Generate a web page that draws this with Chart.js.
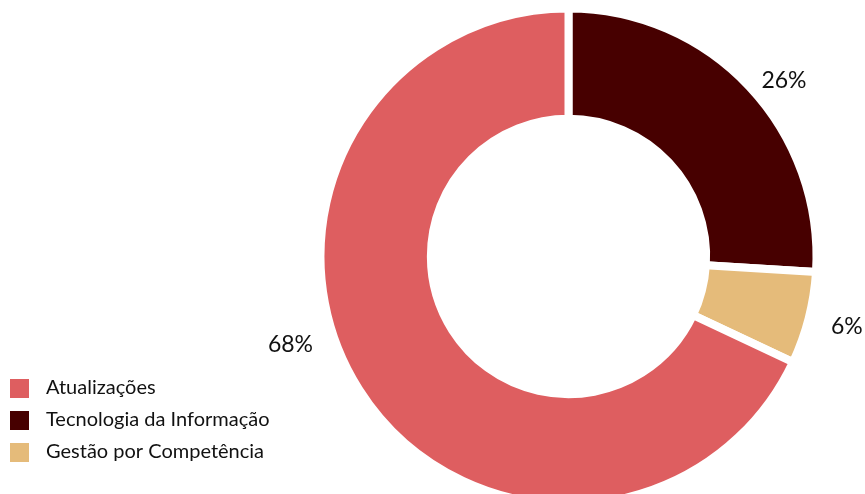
<!DOCTYPE html>
<html lang="pt-BR">
<head>
<meta charset="utf-8">
<title>Distribuição</title>
<script src="https://cdn.jsdelivr.net/npm/chart.js@4.4.1/dist/chart.umd.min.js"></script>
<style>
  html, body { margin: 0; padding: 0; background: #fff; overflow: hidden; }
  #wrap { position: relative; width: 865px; height: 494px; }
</style>
</head>
<body>
<div id="wrap"><canvas id="chart" width="865" height="494"></canvas></div>
<script>
// ── DADOS ───────────────────────────────────────────────────────────────────
const CATEGORIES = ['Atualizações', 'Tecnologia da Informação', 'Gestão por Competência'];
const VALUES = [68, 26, 6];           // percentuais
const COLORS = ['#DE5E60', '#470000', '#E5BB7A'];

// ordem de desenho no gráfico (começa no topo, sentido horário)
const DRAW_ORDER = [1, 2, 0];

const FONT = 'Lato, "Open Sans", sans-serif';

// ── PLUGIN: rótulos de % e legenda ──────────────────────────────────────────
const labelsPlugin = {
  id: 'pctLabels',
  afterDraw(chart, args, opts) {
    const ctx = chart.ctx;
    const meta = chart.getDatasetMeta(0);
    const ds = chart.data.datasets[0];
    const total = ds.data.reduce((s, v) => s + v, 0);

    ctx.save();
    ctx.fillStyle = '#111';
    ctx.font = opts.pctFont;
    ctx.textAlign = 'center';
    ctx.textBaseline = 'middle';
    meta.data.forEach((arc, i) => {
      const p = arc.getProps(['x', 'y', 'startAngle', 'endAngle', 'outerRadius'], true);
      const mid = (p.startAngle + p.endAngle) / 2 + opts.angleShift[i] * Math.PI / 180;
      const r = p.outerRadius + opts.extra[i];
      const pct = Math.round(ds.data[i] / total * 100) + '%';
      ctx.fillText(pct, p.x + Math.cos(mid) * r, p.y + Math.sin(mid) * r);
    });

    // legenda (ordem original das categorias)
    ctx.font = opts.legendFont;
    ctx.textAlign = 'left';
    CATEGORIES.forEach((name, k) => {
      const y = opts.legendTop + k * opts.legendPitch;
      ctx.fillStyle = COLORS[k];
      ctx.fillRect(opts.legendX, y - opts.box / 2, opts.box, opts.box);
      ctx.fillStyle = '#111';
      ctx.fillText(name, opts.legendTextX, y - 1);
    });
    ctx.restore();
  }
};

new Chart(document.getElementById('chart'), {
  type: 'doughnut',
  data: {
    labels: DRAW_ORDER.map(i => CATEGORIES[i]),
    datasets: [{
      data: DRAW_ORDER.map(i => VALUES[i]),
      backgroundColor: DRAW_ORDER.map(i => COLORS[i]),
      borderColor: '#ffffff',
      borderWidth: 8,
      clip: false
    }]
  },
  options: {
    responsive: false,
    animation: false,
    events: [],
    radius: 248,
    cutout: '55.5%',
    layout: { padding: { left: 272, right: 0, top: 19, bottom: 0 } },
    plugins: {
      legend: { display: false },
      tooltip: { enabled: false },
      pctLabels: {
        pctFont: '23px ' + FONT,
        legendFont: '20px ' + FONT,
        angleShift: [4, -0.3, 14.9],
        extra: [30, 39, 43.5],
        legendX: 10,
        legendTextX: 46,
        legendTop: 388.5,
        legendPitch: 32,
        box: 19
      }
    }
  },
  plugins: [labelsPlugin]
});
</script>
</body>
</html>
